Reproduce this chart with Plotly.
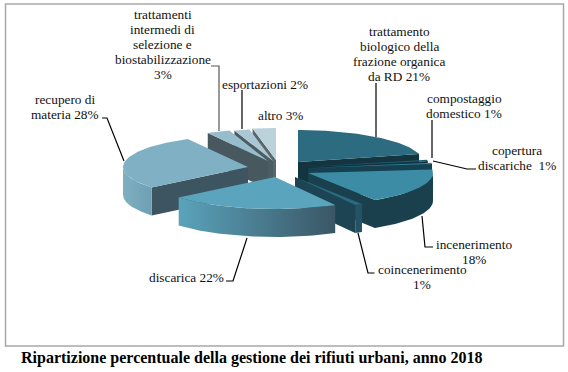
import numpy as np
import plotly.graph_objects as go

# ---- data (clockwise from 12 o'clock) ----
categories = ["trattamento biologico della frazione organica da RD", "compostaggio domestico",
              "copertura discariche", "incenerimento", "coincenerimento", "discarica",
              "recupero di materia", "trattamenti intermedi di selezione e biostabilizzazione",
              "esportazioni", "altro"]
values = [21, 1, 1, 18, 1, 22, 28, 3, 2, 3]

# ---- pie geometry / styling, kept apart from the data ----
W, H = 568, 372
RX, RY, DEPTH = 125, 32, 28
apex_x = [298, 305, 308, 308, 295, 275, 248, 268, 273, 276]
apex_y = [162, 167, 168, 173, 177, 177, 167, 161, 161, 160]
top_colors = ["#2c6b80", "#1f5d72", "#2f7f98", "#3d8ca6", "#2a6a82", "#5ba4bd", "#7fb0c3", "#97bccb", "#a9c8d4", "#bcd2da"]
wall_colors = [("#2c6b80", "#2c6b80"), ("#14404f", "#14404f"), ("#1f5a6e", "#1f5a6e"), ("#1a3f4d", "#1a3f4d"),
               ("#245267", "#245267"), ("#5aa3bb", "#3a5666"), ("#7fb0c2", "#6f9fb2"), ("#97bccb", "#97bccb"),
               ("#a9c8d4", "#a9c8d4"), ("#bcd2da", "#bcd2da")]
face_colors = ["#14353f", "#123340", "#14404f", "#1a3f4d", "#1c4453", "#3a5666", "#3d5560", "#47585f", "#4b5c63", "#59676d"]
paint_order = [9, 8, 7, 0, 1, 2, 6, 3, 4, 5]

labels = [["trattamento", "biologico della", "frazione organica", "da RD 21%"],
          ["compostaggio", "domestico 1%"], ["copertura", "discariche  1%"], ["incenerimento", "18%"],
          ["coincenerimento", "1%"], ["discarica 22%"], ["recupero di", "materia 28%"],
          ["trattamenti", "intermedi di", "selezione e", "biostabilizzazione", "3%"],
          ["esportazioni 2%"], ["altro 3%"]]
label_x = [399, 464, 517, 474, 422, 186, 65, 162.5, 265, 280]
label_y = [31, 98, 150, 244, 269, 277, 99, 14, 84, 115]
LINE_STEP = 15.2
leaders = [[(376, 83), (376, 137)], [(432, 120), (432, 158)],
           [(433, 161), (467, 169), (476, 169)], [(422, 216), (425, 247), (433, 247)],
           [(358, 233), (368, 273), (374.5, 273)], [(247, 238), (233, 281), (226, 281)],
           [(124, 161), (107, 118), (102, 118)], [(211, 66), (219, 66), (219, 131)],
           [(242, 90), (242, 129)]]
leader_colors = ["black"] * 7 + ["#555555", "black"]

TITLE = "Ripartizione percentuale della gestione dei rifiuti urbani, anno 2018"

# ---- slice angles from the values ----
cum = np.cumsum([0] + values) / sum(values) * 360.0


def pt(i, deg, drop=0.0):
    t = np.radians(deg)
    return apex_x[i] + RX * np.sin(t), apex_y[i] - RY * np.cos(t) + drop


def poly(fig, xs, ys, color=None, grad=None):
    kw = dict(x=list(xs) + [xs[0]], y=list(ys) + [ys[0]], mode="lines", fill="toself",
              line=dict(width=0), hoverinfo="skip", showlegend=False)
    if grad:
        kw["fillgradient"] = dict(type="horizontal", colorscale=[[0, grad[0]], [1, grad[1]]])
    else:
        kw["fillcolor"] = color
    fig.add_trace(go.Scatter(**kw))


fig = go.Figure()
for i in paint_order:
    a0, a1 = cum[i], cum[i + 1]
    # visible cut faces
    for ang, vis in ((a0, np.sin(np.radians(a0)) < -1e-6), (a1, np.sin(np.radians(a1)) > 1e-6)):
        if vis:
            ex, ey = pt(i, ang)
            poly(fig, [apex_x[i], ex, ex, apex_x[i]],
                 [apex_y[i], ey, ey + DEPTH, apex_y[i] + DEPTH], color=face_colors[i])
    # outer wall (front half only)
    w0, w1 = max(a0, 90), min(a1, 270)
    if w1 > w0:
        th = np.linspace(w0, w1, 50)
        tx, ty = zip(*[pt(i, d) for d in th])
        bx, by = zip(*[pt(i, d, DEPTH) for d in th[::-1]])
        poly(fig, list(tx) + list(bx), list(ty) + list(by), grad=wall_colors[i])
    # top
    th = np.linspace(a0, a1, 60)
    tx, ty = zip(*[pt(i, d) for d in th])
    poly(fig, [apex_x[i]] + list(tx), [apex_y[i]] + list(ty), color=top_colors[i])

shapes = [dict(type="rect", x0=5.5, x1=563.5, y0=4, y1=346, line=dict(color="#a8a8a8", width=1.5), layer="below")]
for pts, c in zip(leaders, leader_colors):
    path = "M" + " L".join(f"{x},{y}" for x, y in pts)
    shapes.append(dict(type="path", path=path, line=dict(color=c, width=1.2)))

ann = []
for x, y, lines in zip(label_x, label_y, labels):
    for n, line in enumerate(lines):
        ann.append(dict(x=x, y=y + n * LINE_STEP, text=line.replace("  ", "\u00a0 "), showarrow=False,
                        xanchor="center", yanchor="middle",
                        font=dict(family="Liberation Serif", size=13.3, color="#111111")))
ann.append(dict(x=19, y=358, text=f"<b>{TITLE}</b>", showarrow=False, xanchor="left", yanchor="middle",
                font=dict(family="Liberation Serif", size=16, color="black")))

fig.update_layout(width=W, height=H, margin=dict(l=0, r=0, t=0, b=0), paper_bgcolor="white", plot_bgcolor="white",
                  xaxis=dict(range=[0, W], visible=False, fixedrange=True),
                  yaxis=dict(range=[H, 0], visible=False, fixedrange=True),
                  shapes=shapes, annotations=ann, showlegend=False)
fig.write_html("out.html", config={"displayModeBar": False},
               post_script="document.body.style.margin='0';document.body.style.overflow='hidden';")
